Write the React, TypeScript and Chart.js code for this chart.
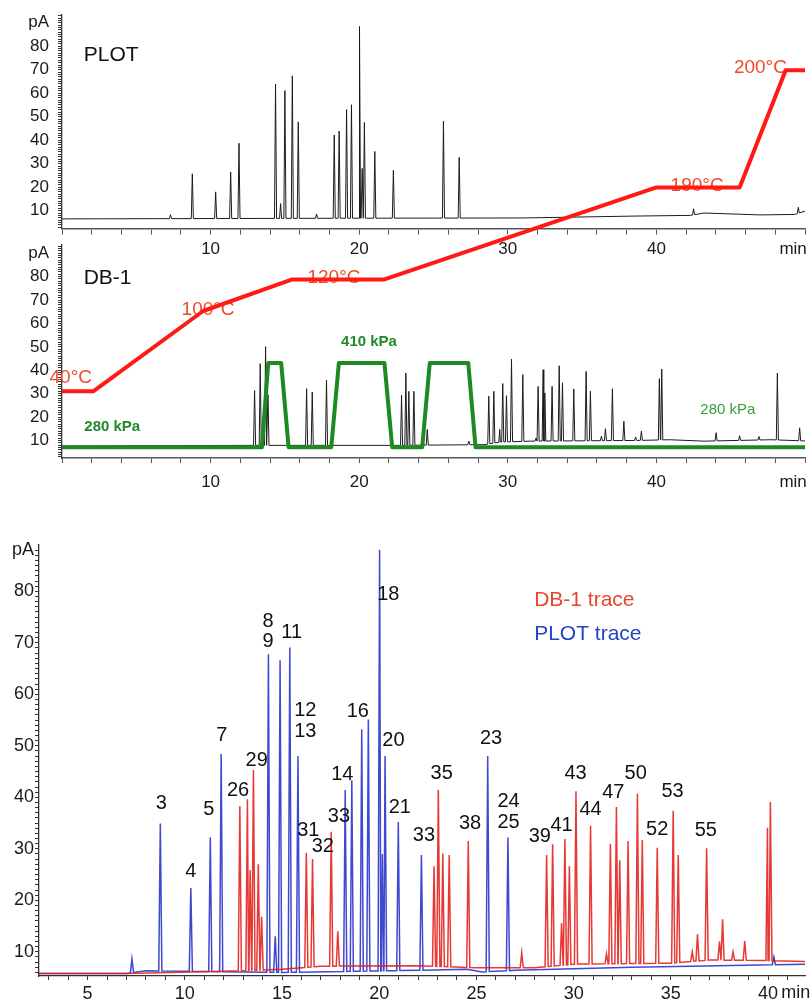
import React, { useEffect, useRef } from 'react';
import { Chart, registerables } from 'chart.js';

Chart.register(...registerables);

const FONT = "'Liberation Sans', Arial, Helvetica, sans-serif";
Chart.defaults.font.family = FONT;
Chart.defaults.color = '#1a1a1a';

// ---------------- Top panel: PLOT column (black trace) ----------------
const plotPeakTimes = [7.3, 8.77, 10.34, 11.35, 11.91, 14.37, 14.71, 15.0, 15.5, 15.9, 17.13, 18.32, 18.65, 19.15, 19.48, 20.02, 20.2, 20.35, 21.05, 22.3, 25.67, 26.73, 42.5, 49.55];
const plotPeakHeights = [8.3, 25.7, 18, 26.5, 38.7, 63.9, 13, 61.1, 67.4, 47.8, 8.6, 42.2, 43.9, 53, 55.1, 88.4, 28, 47.5, 35.2, 27.2, 48.1, 32.7, 10.8, 11.4];
const plotBaseTimes = [0, 20, 31, 38.5, 42.3, 43.2, 47, 49.3, 50];
const plotBaseLevels = [6.5, 6.8, 6.9, 7.7, 8.0, 9.0, 8.2, 8.4, 9.8];

// ---------------- Middle panel: DB-1 column (black trace) ----------------
const db1PeakTimes = [12.96, 13.34, 13.7, 13.86, 16.46, 16.84, 17.8, 22.85, 23.14, 23.34, 23.68, 24.58, 27.38, 28.72, 29.06, 29.46, 29.66, 29.91, 30.25, 31.01, 31.9, 32.04, 32.38, 32.49, 32.98, 33.46, 33.68, 34.44, 35.27, 35.56, 36.3, 36.57, 37.04, 37.81, 38.6, 38.99, 40.2, 40.36, 44.02, 45.6, 46.9, 48.14, 49.64];
const db1PeakHeights = [31.3, 42.8, 50.1, 29.6, 32.1, 30.7, 35.7, 29.3, 38.8, 31, 31, 14.7, 9.7, 28.9, 31, 14.7, 34.3, 29.1, 44.8, 38.1, 11, 33.1, 40.2, 30.3, 33.1, 41.9, 34.6, 32, 39.5, 31, 11.8, 15, 32.1, 18.2, 11.5, 14, 36.4, 40.5, 13.3, 12, 11.7, 38.8, 15.4];
const db1BaseTimes = [0, 12.5, 22.5, 28.4, 29.5, 31.5, 38.7, 40.9, 43.2, 47.7, 50];
const db1BaseLevels = [7.6, 7.9, 7.9, 8.2, 9.3, 9.7, 10, 10.3, 9.7, 10.3, 9.8];

// Oven temperature program (schematic level, drawn in DB-1 panel units)
const tempTimes = [0, 2.1, 9.5, 15.5, 21.7, 40, 45.6, 48.7, 50];
const tempLevels = [31, 31, 65.3, 78.8, 78.8, 118.1, 118.1, 168.2, 168.2];
const tempLabels = ['40°C', '100°C', '120°C', '190°C', '200°C'];

// Pressure program (schematic level, DB-1 panel units)
const pressTimes = [0, 13.45, 13.88, 14.75, 15.25, 18.12, 18.63, 21.7, 22.22, 24.24, 24.75, 27.34, 27.83, 50];
const pressLevels = [7.1, 7.1, 43.1, 43.1, 7.1, 7.1, 43.1, 43.1, 7.1, 7.1, 43.1, 43.1, 7.1, 7.1];

// ---------------- Bottom panel: overlay ----------------
const ovPlotPeakTimes = [7.28, 8.74, 10.31, 11.31, 11.87, 14.3, 14.65, 14.9, 15.4, 15.82, 18.25, 18.59, 19.1, 19.44, 20.02, 20.16, 20.3, 20.98, 22.17, 25.58, 26.62, 40.3];
const ovPlotPeakHeights = [8.6, 34.9, 22.4, 32.2, 48.4, 67.8, 13, 66.6, 69.1, 48, 41.4, 43.3, 53.2, 55.1, 88.1, 29, 48, 35.2, 28.8, 48, 32.2, 9];
const ovPlotBaseTimes = [2.5, 7.0, 8.0, 15, 22, 24.5, 25.3, 27, 33, 36, 42];
const ovPlotBaseLevels = [5.8, 5.8, 6.3, 6.0, 6.4, 6.6, 6.1, 6.4, 7.0, 7.2, 7.6];

const ovDb1PeakTimes = [12.83, 13.22, 13.36, 13.53, 13.78, 13.95, 16.25, 16.57, 17.53, 17.87, 22.82, 23.04, 23.27, 23.6, 24.58, 27.33, 28.61, 28.92, 29.38, 29.55, 29.78, 30.12, 30.87, 31.69, 31.89, 32.2, 32.37, 32.8, 33.28, 33.53, 34.3, 35.12, 35.38, 36.1, 36.37, 36.84, 37.5, 37.66, 38.2, 38.8, 39.97, 40.12];
const ovDb1PeakHeights = [38.3, 39.6, 25.9, 45.3, 27, 16.8, 29.2, 28, 33.3, 14, 26.6, 41.4, 29.1, 28.8, 31.5, 9.8, 28.8, 30.9, 15.6, 31.9, 26.6, 41.2, 34.5, 9.6, 31, 38.1, 27.8, 31.5, 40.7, 31.7, 30.2, 37.4, 28.8, 10, 13.4, 30.1, 12, 16.3, 10, 12.1, 34.1, 39.1];
const ovDb1BaseTimes = [2.5, 7, 12, 15, 17, 22, 25, 28, 30, 35, 37, 40, 42];
const ovDb1BaseLevels = [5.8, 5.8, 6.2, 6.6, 7.2, 7.3, 6.9, 6.9, 7.6, 7.8, 8.4, 8.3, 8.1];

const peakLabelTexts = ['3', '4', '5', '7', '26', '29', '8', '9', '11', '12', '13', '31', '32', '33', '14', '16', '18', '20', '21', '33', '35', '38', '23', '24', '25', '39', '41', '43', '44', '47', '50', '52', '53', '55'];
const peakLabelTimes = [8.79, 10.31, 11.23, 11.9, 12.74, 13.7, 14.28, 14.28, 15.5, 16.2, 16.2, 16.35, 17.1, 17.93, 18.1, 18.9, 20.47, 20.73, 21.06, 22.3, 23.21, 24.67, 25.75, 26.65, 26.65, 28.26, 29.38, 30.1, 30.87, 32.04, 33.19, 34.3, 35.09, 36.8];
const peakLabelLevels = [38.8, 25.5, 37.6, 52, 41.4, 47.2, 74.2, 70.3, 72.1, 56.9, 52.7, 33.6, 30.5, 36.2, 44.5, 56.6, 79.4, 51.1, 38, 32.5, 44.6, 34.9, 51.4, 39.1, 35.2, 32.3, 34.6, 44.6, 37.6, 41, 44.7, 33.8, 41.2, 33.6];

// Axis ticks
const topXTicks = [0, 2, 4, 6, 8, 10, 12, 14, 16, 18, 20, 22, 24, 26, 28, 30, 32, 34, 36, 38, 40, 42, 44, 46, 48, 50];
const topXLabels = [10, 20, 30, 40];
const topYLabels = [10, 20, 30, 40, 50, 60, 70, 80];
const botXLabels = [5, 10, 15, 20, 25, 30, 35, 40];
const botYLabels = [10, 20, 30, 40, 50, 60, 70, 80];

const intRange = (a: number, b: number) => {
  const out: number[] = [];
  for (let v = a; v <= b; v++) out.push(v);
  return out;
};

function baseAt(times: number[], levels: number[], t: number) {
  if (t <= times[0]) return levels[0];
  for (let i = 1; i < times.length; i++) {
    if (t <= times[i]) {
      const f = (t - times[i - 1]) / (times[i] - times[i - 1]);
      return levels[i - 1] + f * (levels[i] - levels[i - 1]);
    }
  }
  return levels[levels.length - 1];
}

function buildTrace(bt: number[], bl: number[], pt: number[], ph: number[], hw: number) {
  const pts: { x: number; y: number }[] = [];
  bt.forEach((t, i) => pts.push({ x: t, y: bl[i] }));
  pt.forEach((t, i) => {
    pts.push({ x: t - hw, y: baseAt(bt, bl, t - hw) });
    pts.push({ x: t, y: ph[i] });
    pts.push({ x: t + hw, y: baseAt(bt, bl, t + hw) });
  });
  pts.sort((a, b) => a.x - b.x);
  return pts;
}

const zip = (xs: number[], ys: number[]) => xs.map((x, i) => ({ x, y: ys[i] }));

type Note = {
  text: string; x: number; y: number; xAxis: string; yAxis: string;
  color: string; size: number; weight?: string; align?: CanvasTextAlign; dy?: number;
};

function notesPlugin(id: string, before: Note[], after: Note[]) {
  const draw = (chart: any, notes: Note[]) => {
    const ctx = chart.ctx as CanvasRenderingContext2D;
    ctx.save();
    notes.forEach((n) => {
      const px = chart.scales[n.xAxis].getPixelForValue(n.x);
      const py = chart.scales[n.yAxis].getPixelForValue(n.y) + (n.dy || 0);
      ctx.font = `${n.weight || 'normal'} ${n.size}px ${FONT}`;
      ctx.fillStyle = n.color;
      ctx.textAlign = n.align || 'center';
      ctx.textBaseline = 'middle';
      ctx.fillText(n.text, px, py);
    });
    ctx.restore();
  };
  return {
    id,
    beforeDatasetsDraw: (chart: any) => draw(chart, before),
    afterDatasetsDraw: (chart: any) => draw(chart, after),
  };
}

const AXIS = '#333';

function topXAxis(position: any, pad: number) {
  return {
    type: 'linear',
    position,
    min: 0,
    max: 50,
    afterBuildTicks: (s: any) => { s.ticks = topXTicks.map((v) => ({ value: v })); },
    afterFit: (s: any) => { s.height = 42; s.paddingLeft = 0; s.paddingRight = 0; },
    ticks: {
      autoSkip: false, maxRotation: 0, padding: pad, color: '#1a1a1a',
      font: { size: 17 },
      callback: (v: number) => (topXLabels.includes(v) ? String(v) : ''),
    },
    grid: { drawOnChartArea: false, tickLength: 5, color: '#555', tickWidth: 1 },
    border: { color: '#555', width: 1.6 },
  };
}

function topYAxis(weight: number, stackWeight: number, min: number, max: number) {
  return {
    type: 'linear',
    position: 'left',
    stack: 'panels',
    stackWeight,
    weight,
    min,
    max,
    afterBuildTicks: (s: any) => { s.ticks = intRange(3, 93).map((v) => ({ value: v })); },
    afterFit: (s: any) => { s.width = 62; s.paddingTop = 0; s.paddingBottom = 0; },
    ticks: {
      autoSkip: false, padding: 9, color: '#1a1a1a', font: { size: 17 },
      callback: (v: number) => (v === 90 ? 'pA' : topYLabels.includes(v) ? String(v) : ''),
    },
    grid: { drawOnChartArea: false, tickLength: 4, color: AXIS, tickWidth: 1 },
    border: { color: AXIS, width: 1.3 },
  };
}

export default function App() {
  const topRef = useRef<HTMLCanvasElement>(null);
  const botRef = useRef<HTMLCanvasElement>(null);

  useEffect(() => {
    const plotTrace = buildTrace(plotBaseTimes, plotBaseLevels, plotPeakTimes, plotPeakHeights, 0.07);
    const db1Trace = buildTrace(db1BaseTimes, db1BaseLevels, db1PeakTimes, db1PeakHeights, 0.07);

    const topBefore: Note[] = [
      { text: tempLabels[0], x: 0.59, y: 36.8, xAxis: 'x', yAxis: 'yMid', color: '#ee4b2b', size: 19 },
      { text: tempLabels[1], x: 9.83, y: 65.7, xAxis: 'x', yAxis: 'yMid', color: '#ee4b2b', size: 19 },
      { text: tempLabels[2], x: 18.3, y: 79.5, xAxis: 'x', yAxis: 'yMid', color: '#ee4b2b', size: 19 },
      { text: tempLabels[3], x: 42.74, y: 20.6, xAxis: 'xTop', yAxis: 'yTop', color: '#ee4b2b', size: 19 },
      { text: tempLabels[4], x: 47.0, y: 70.9, xAxis: 'xTop', yAxis: 'yTop', color: '#ee4b2b', size: 19 },
    ];
    const topAfter: Note[] = [
      { text: 'PLOT', x: 1.46, y: 76, xAxis: 'xTop', yAxis: 'yTop', color: '#111', size: 21, align: 'left' },
      { text: 'DB-1', x: 1.46, y: 79.4, xAxis: 'x', yAxis: 'yMid', color: '#111', size: 21, align: 'left' },
      { text: '280 kPa', x: 3.38, y: 15.8, xAxis: 'x', yAxis: 'yMid', color: '#22882a', size: 15, weight: 'bold' },
      { text: '410 kPa', x: 20.66, y: 52, xAxis: 'x', yAxis: 'yMid', color: '#22882a', size: 15, weight: 'bold' },
      { text: '280 kPa', x: 44.81, y: 22.9, xAxis: 'x', yAxis: 'yMid', color: '#3a9d3a', size: 15 },
      { text: 'min', x: 49.2, y: 2.5, xAxis: 'xTop', yAxis: 'yTop', color: '#1a1a1a', size: 17, dy: 21.2 },
      { text: 'min', x: 49.2, y: 2.5, xAxis: 'x', yAxis: 'yMid', color: '#1a1a1a', size: 17, dy: 24.2 },
    ];

    const c1 = new Chart(topRef.current as HTMLCanvasElement, {
      type: 'line',
      data: {
        datasets: [
          { label: 'Temperature', data: zip(tempTimes, tempLevels), xAxisID: 'x', yAxisID: 'yMid', borderColor: '#ff1a14', borderWidth: 4, pointRadius: 0, clip: false as any, borderJoinStyle: 'round' },
          { label: 'Pressure', data: zip(pressTimes, pressLevels), xAxisID: 'x', yAxisID: 'yMid', borderColor: '#1f8a22', borderWidth: 4, pointRadius: 0, clip: 4 as any, borderJoinStyle: 'round' },
          { label: 'DB-1', data: db1Trace, xAxisID: 'x', yAxisID: 'yMid', borderColor: '#1c1c1c', borderWidth: 1, pointRadius: 0 },
          { label: 'PLOT', data: plotTrace, xAxisID: 'xTop', yAxisID: 'yTop', borderColor: '#1c1c1c', borderWidth: 1, pointRadius: 0 },
        ] as any,
      },
      options: {
        responsive: false,
        animation: false,
        events: [],
        layout: { padding: { top: 15, right: 7, left: 0, bottom: 0 } },
        plugins: { legend: { display: false }, tooltip: { enabled: false } },
        elements: { line: { tension: 0 } },
        scales: {
          x: topXAxis('bottom', 9),
          xTop: topXAxis({ yTop: 2.5 }, 6),
          yMid: topYAxis(1, 213, 2.5, 93.5),
          yGap: { type: 'linear', position: 'left', stack: 'panels', stackWeight: 16.7, weight: 2, display: false, min: 0, max: 1 },
          yTop: topYAxis(3, 213.3, 2.5, 93.3),
        } as any,
      },
      plugins: [notesPlugin('topNotes', topBefore, topAfter) as any],
    });

    // ---- bottom overlay chart
    const ovPlot = buildTrace(ovPlotBaseTimes, ovPlotBaseLevels, ovPlotPeakTimes, ovPlotPeakHeights, 0.08);
    const ovDb1 = buildTrace(ovDb1BaseTimes, ovDb1BaseLevels, ovDb1PeakTimes, ovDb1PeakHeights, 0.08);

    const botNotes: Note[] = peakLabelTexts.map((t, i) => ({
      text: t, x: peakLabelTimes[i], y: peakLabelLevels[i], xAxis: 'x', yAxis: 'y', color: '#111', size: 20,
    }));
    botNotes.push({ text: 'DB-1 trace', x: 27.97, y: 78.25, xAxis: 'x', yAxis: 'y', color: '#e8452a', size: 21, align: 'left' });
    botNotes.push({ text: 'PLOT trace', x: 27.97, y: 71.6, xAxis: 'x', yAxis: 'y', color: '#2543c8', size: 21, align: 'left' });
    botNotes.push({ text: 'min', x: 41.43, y: 5.3, xAxis: 'x', yAxis: 'y', color: '#1a1a1a', size: 18, dy: 17.5 });

    const c2 = new Chart(botRef.current as HTMLCanvasElement, {
      type: 'line',
      data: {
        datasets: [
          { label: 'DB-1 trace', data: ovDb1, borderColor: 'rgba(226,28,24,0.88)', borderWidth: 1.5, pointRadius: 0 },
          { label: 'PLOT trace', data: ovPlot, borderColor: 'rgba(36,48,200,0.88)', borderWidth: 1.5, pointRadius: 0 },
        ] as any,
      },
      options: {
        responsive: false,
        animation: false,
        events: [],
        layout: { padding: { top: 45, right: 7, left: 0, bottom: 0 } },
        plugins: { legend: { display: false }, tooltip: { enabled: false } },
        elements: { line: { tension: 0 } },
        scales: {
          x: {
            type: 'linear', min: 2.5, max: 41.9,
            afterBuildTicks: (s: any) => { s.ticks = intRange(3, 41).map((v) => ({ value: v })); },
            afterFit: (s: any) => { s.height = 25; s.paddingLeft = 0; s.paddingRight = 0; },
            ticks: {
              autoSkip: false, maxRotation: 0, padding: 3, color: '#1a1a1a', font: { size: 18 },
              callback: (v: number) => (botXLabels.includes(v) ? String(v) : ''),
            },
            grid: { drawOnChartArea: false, tickLength: 4, color: AXIS, tickWidth: 1 },
            border: { color: AXIS, width: 1.3 },
          },
          y: {
            type: 'linear', min: 5.3, max: 89,
            afterBuildTicks: (s: any) => { s.ticks = intRange(6, 88).map((v) => ({ value: v })); },
            afterFit: (s: any) => { s.width = 39; s.paddingTop = 0; s.paddingBottom = 0; },
            ticks: {
              autoSkip: false, padding: 1, color: '#1a1a1a', font: { size: 18 },
              callback: (v: number) => (v === 88 ? 'pA' : botYLabels.includes(v) ? String(v) : ''),
            },
            grid: { drawOnChartArea: false, tickLength: 4, color: AXIS, tickWidth: 1 },
            border: { color: AXIS, width: 1.3 },
          },
        } as any,
      },
      plugins: [notesPlugin('botNotes', [], botNotes) as any],
    });

    return () => {
      c1.destroy();
      c2.destroy();
    };
  }, []);

  return (
    <div style={{ position: 'absolute', left: 0, top: 0, width: 812, height: 1001, background: '#fff' }}>
      <canvas ref={topRef} width={812} height={500} style={{ position: 'absolute', left: 0, top: 0, width: 812, height: 500 }} />
      <canvas ref={botRef} width={812} height={501} style={{ position: 'absolute', left: 0, top: 500, width: 812, height: 501 }} />
    </div>
  );
}
